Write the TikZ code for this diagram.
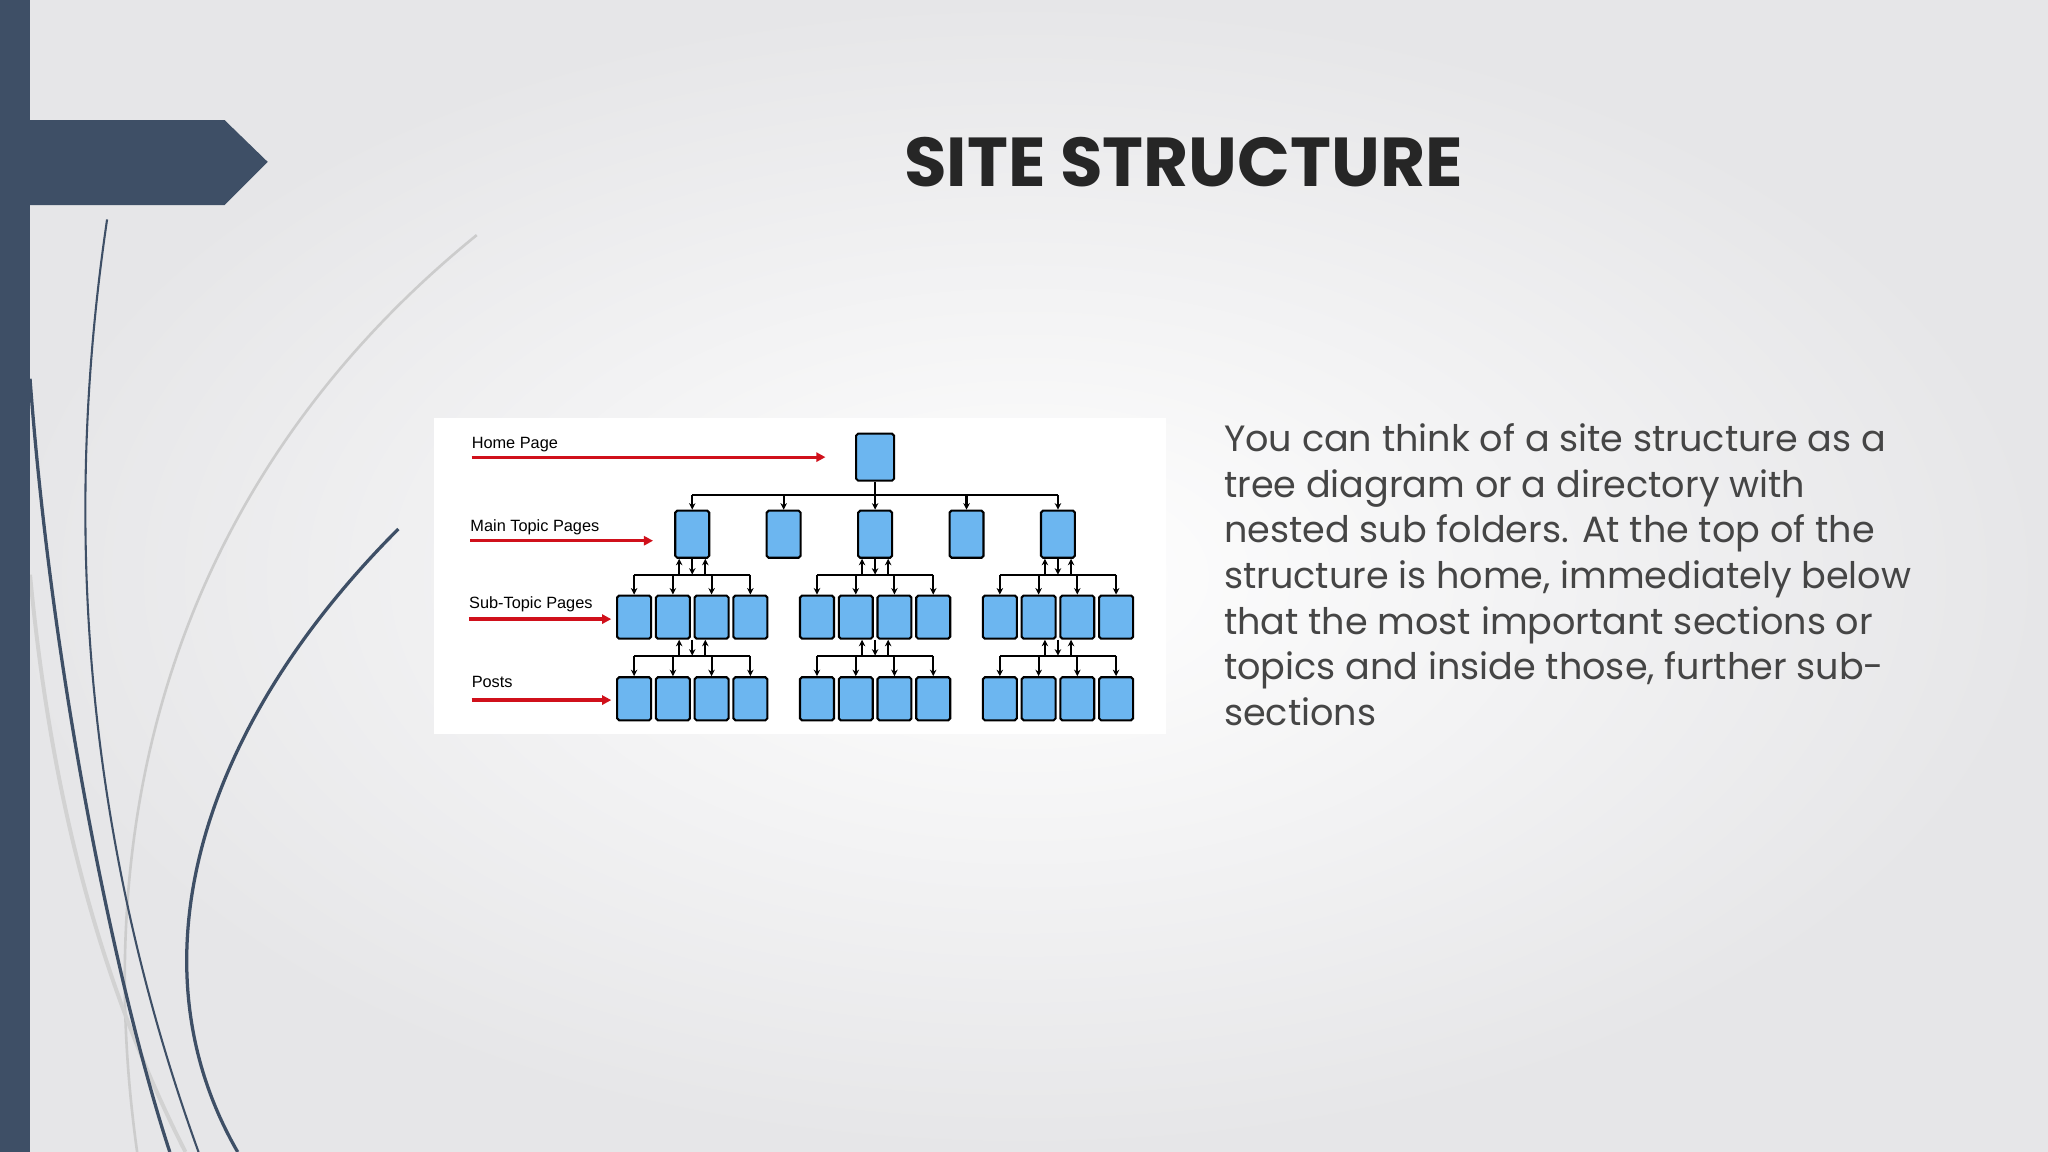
\documentclass[tikz,border=0pt]{standalone}
\usepackage{fontspec}
\setmainfont{Poppins}
\newfontfamily\arialf{Liberation Sans}
\usetikzlibrary{arrows.meta}
\definecolor{slate}{HTML}{3E4F66}
\definecolor{boxblue}{HTML}{6CB6F0}
\definecolor{arrred}{HTML}{D0101B}
\definecolor{bodygray}{HTML}{454545}
\begin{document}
\begin{tikzpicture}[x=1pt,y=-1pt,
  pg/.style={draw=black,line width=1.6pt,fill=boxblue,rounded corners=1.5pt,minimum width=26pt,minimum height=33pt,inner sep=0pt},
  conn/.style={line width=1.6pt,black},
  tip/.style={-{Stealth[length=5pt,width=5pt]}},
  redarr/.style={line width=2.5pt,arrred,-{Triangle[length=7pt,width=7pt]}},
  lab/.style={font=\arialf\fontsize{12.5}{14}\selectfont,anchor=west,inner sep=0pt}]
\useasboundingbox (0,0) rectangle (1568,882);
\shade[inner color=white,outer color={rgb,255:red,230;green,230;blue,232}] (0,0) rectangle (1568,882);
% curves
\draw[gray!40,line width=2pt] (365,180) .. controls (180,330) and (60,560) .. (105,882);
\draw[gray!35,line width=3pt] (23,440) .. controls (40,620) and (80,760) .. (142,882);
\draw[slate,line width=1.6pt] (82,168) .. controls (55,350) and (50,600) .. (152,882);
\draw[slate,line width=2.5pt] (23,290) .. controls (40,520) and (90,760) .. (130,882);
\draw[slate,line width=2.5pt] (305,405) .. controls (150,560) and (100,740) .. (182,882);
\fill[slate] (0,0) rectangle (23,882);
\fill[slate] (23,92) -- (172,92) -- (205,124) -- (172,157) -- (23,157) -- cycle;
\node[font=\fontsize{53}{58}\selectfont\bfseries,text=black!85] (title) at (906,124) {SITE STRUCTURE};
\node[anchor=north west,align=left,font=\fontsize{28}{35}\selectfont,text=bodygray,inner sep=0pt] (body) at (937,324)
{You can think of a site structure as a\\tree diagram or a directory with\\nested sub folders. At the top of the\\structure is home, immediately below\\that the most important sections or\\topics and inside those, further sub-\\sections};
% tree image
\fill[white] (332,320) rectangle (893,562);
\node[lab] (l1) at (361,340) {Home Page};
\node[lab] (l2) at (360,404) {Main Topic Pages};
\node[lab] (l3) at (359,463) {Sub-Topic Pages};
\node[lab] (l4) at (361,522) {Posts};
\coordinate (a1) at (632,350); \coordinate (a2) at (500,414);
\coordinate (a3) at (468,474); \coordinate (a4) at (468,536);
\draw[redarr] (l1.south west |- a1) -- (a1);
\draw[redarr] (l2.south west |- a2) -- (a2);
\draw[redarr] (l3.south west |- a3) -- (a3);
\draw[redarr] (l4.south west |- a4) -- (a4);
\node[pg,minimum width=29pt,minimum height=36pt] (h) at (670,350) {};
\foreach \i/\x in {1/530,2/600,3/670,4/740,5/810} \node[pg,minimum height=36pt] (m\i) at (\x,409) {};
\coordinate (hb) at (0,379);
\draw[conn] (h.south) -- (h.south |- hb);
\draw[conn] (m1.north |- hb) -- (m5.north |- hb);
\foreach \i in {1,...,5} \draw[conn,tip] (m\i.north |- hb) -- (m\i.north);
\foreach \g/\m/\c in {1/1/530,2/3/670,3/5/810}{
  \foreach \k/\dx in {1/-44.5,2/-14.8,3/14.8,4/44.5}{
    \node[pg] (s\g\k) at (\c+\dx,472.5) {};
    \node[pg] (p\g\k) at (\c+\dx,535) {};
  }
  \coordinate (sb\g) at (\c,440);
  \coordinate (pb\g) at (\c,502);
  \draw[conn] (s\g1.north |- sb\g) -- (s\g4.north |- sb\g);
  \draw[conn] (p\g1.north |- pb\g) -- (p\g4.north |- pb\g);
  \foreach \k in {1,...,4}{
    \draw[conn,tip] (s\g\k.north |- sb\g) -- (s\g\k.north);
    \draw[conn,tip] (p\g\k.north |- pb\g) -- (p\g\k.north);
  }
  \draw[conn,tip] (m\m.south) -- (sb\g);
  \draw[conn,tip] ([xshift=-10pt]sb\g) -- ([xshift=-10pt]m\m.south);
  \draw[conn,tip] ([xshift=10pt]sb\g) -- ([xshift=10pt]m\m.south);
  \path (s\g2.south) -- (s\g3.south) coordinate[pos=0.5] (sm\g);
  \draw[conn,tip] (sm\g) -- (pb\g);
  \draw[conn,tip] ([xshift=-10pt]pb\g) -- ([xshift=-10pt]sm\g);
  \draw[conn,tip] ([xshift=10pt]pb\g) -- ([xshift=10pt]sm\g);
}
\end{tikzpicture}
\end{document}
